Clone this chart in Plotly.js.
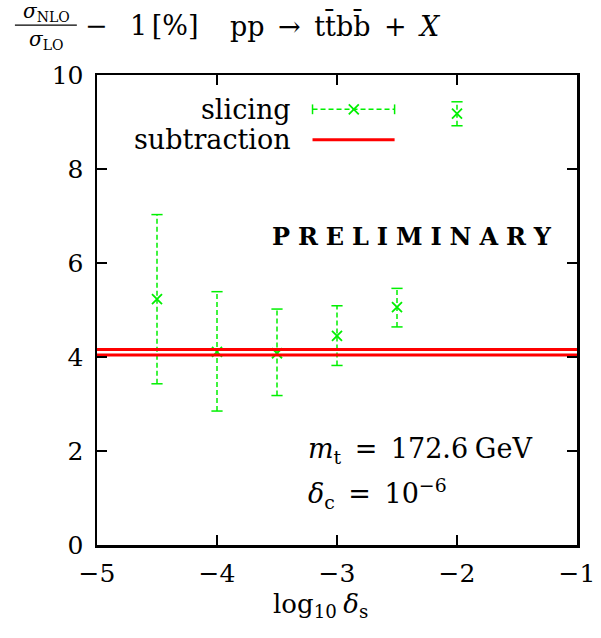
<!DOCTYPE html>
<html>
<head>
<meta charset="utf-8">
<script src="https://cdn.plot.ly/plotly-3.0.1.min.js"></script>
<style>html,body{margin:0;padding:0;background:#fff;}#plot{width:601px;height:638px;}</style>
</head>
<body>
<div id="plot"></div>
<script>
// ---- data ----
const logDeltaS = [-4.5, -4.0, -3.5, -3.0, -2.5, -2.0];
const slicingVal = [5.23, 4.11, 4.08, 4.45, 5.06, 9.18];
const slicingHi  = [7.03, 5.39, 5.02, 5.09, 5.46, 9.43];
const slicingLo  = [3.43, 2.85, 3.18, 3.82, 4.64, 8.92];
const subtractionVal = 4.10;
const subtractionErr = 0.06;
const xRange = [-5, -1];
const yRange = [0, 10];
const xTicks = [-5, -4, -3, -2, -1];
const yTicks = [0, 2, 4, 6, 8, 10];

const GREEN = '#00f000';
const RED = '#ff0000';
const FONT = "'DejaVu Serif', 'Liberation Serif', serif";
const FS = 25;
const prelim = 'PRELIMINARY'.split('').join('\u2004');

// error bar stems built from the data
const stemX = [], stemY = [];
logDeltaS.forEach((x, i) => { stemX.push(x, x, null); stemY.push(slicingLo[i], slicingHi[i], null); });

const traces = [
  { x: stemX, y: stemY, mode: 'lines', line: {color: GREEN, width: 1.5, dash: '5px,3px'}, hoverinfo: 'skip', showlegend: false },
  { x: logDeltaS.concat(logDeltaS), y: slicingHi.concat(slicingLo), mode: 'markers',
    marker: {symbol: 'line-ew', size: 8, line: {color: GREEN, width: 1.5}}, showlegend: false },
  { x: logDeltaS, y: slicingVal, mode: 'markers',
    marker: {symbol: 'x-thin', size: 10, line: {color: GREEN, width: 1.8}}, showlegend: false },
  { x: xRange, y: [subtractionVal + subtractionErr, subtractionVal + subtractionErr], mode: 'lines',
    line: {color: RED, width: 3}, showlegend: false },
  { x: xRange, y: [subtractionVal - subtractionErr, subtractionVal - subtractionErr], mode: 'lines',
    line: {color: RED, width: 3}, showlegend: false },
  // legend samples (on hidden overlay axes)
  { x: [0.449, 0.62], y: [0.927, 0.927], xaxis: 'x2', yaxis: 'y2', mode: 'lines',
    line: {color: GREEN, width: 1.5, dash: '5px,3px'}, showlegend: false, hoverinfo: 'skip' },
  { x: [0.535], y: [0.927], xaxis: 'x2', yaxis: 'y2', mode: 'markers',
    marker: {symbol: 'x-thin', size: 10, line: {color: GREEN, width: 1.8}}, showlegend: false },
  { x: [0.449, 0.62], y: [0.927, 0.927], xaxis: 'x2', yaxis: 'y2', mode: 'markers',
    marker: {symbol: 'line-ns', size: 7, line: {color: GREEN, width: 1.5}}, showlegend: false },
  { x: [0.449, 0.62], y: [0.862, 0.862], xaxis: 'x2', yaxis: 'y2', mode: 'lines',
    line: {color: RED, width: 3}, showlegend: false, hoverinfo: 'skip' }
];

const axCommon = {
  showgrid: false, zeroline: false, showline: true, linecolor: '#000', linewidth: 2.5,
  mirror: 'ticks', ticks: 'inside', ticklen: 10, tickwidth: 2.5, tickcolor: '#000',
  tickfont: {family: FONT, size: FS, color: '#000'}
};

const txt = (x, y, text, xa, ya, size, extra) => Object.assign({xref: 'paper', yref: 'paper', x: x, y: y,
  xanchor: xa, yanchor: ya, showarrow: false, text: text, font: {family: FONT, size: size, color: '#000'}}, extra || {});

const layout = {
  width: 601, height: 638,
  margin: {l: 97, r: 24, t: 75, b: 93},
  paper_bgcolor: '#fff', plot_bgcolor: '#fff',
  showlegend: false,
  xaxis: Object.assign({}, axCommon, {range: xRange, tickvals: xTicks, ticklabelstandoff: 4}),
  yaxis: Object.assign({}, axCommon, {range: yRange, tickvals: yTicks, ticklabelstandoff: 6}),
  xaxis2: {overlaying: 'x', range: [0, 1], visible: false},
  yaxis2: {overlaying: 'y', range: [0, 1], visible: false},
  shapes: [
    {type: 'line', xref: 'paper', yref: 'paper', x0: -0.171, x1: -0.042, y0: 1.106, y1: 1.106,
     line: {color: '#000', width: 1.2}}
  ],
  annotations: [
    txt(-0.106, 1.103, '<i>σ</i><sub>NLO</sub>', 'center', 'bottom', 20),
    txt(-0.106, 1.107, '<i>σ</i><sub>LO</sub>', 'center', 'top', 20),
    txt(-0.029, 1.106, '−\u2002\u20041\u2006[%]', 'left', 'middle', 27),
    txt(0.273, 1.106, 'pp\u2002→\u2002tt̄bb̄\u2002+\u2002<i>X</i>', 'left', 'middle', 27),
    txt(0.408, 0.927, 'slicing', 'right', 'middle', 27),
    txt(0.408, 0.862, 'subtraction', 'right', 'middle', 27),
    txt(0.952, 0.657, '<b>' + prelim + '</b>', 'right', 'middle', 24),
    txt(0.436, 0.202, '<i>m</i><sub>t</sub>\u2002=\u2002172.6\u2005GeV', 'left', 'middle', 27),
    txt(0.436, 0.11, '<i>δ</i><sub>c</sub>\u2002=\u200210<sup>−6</sup>', 'left', 'middle', 27),
    txt(0.465, -0.128, 'log<sub>10</sub>\u2005<i>δ</i><sub>s</sub>', 'center', 'middle', 26)
  ]
};

Plotly.newPlot('plot', traces, layout, {staticPlot: true, displayModeBar: false});
</script>
</body>
</html>
